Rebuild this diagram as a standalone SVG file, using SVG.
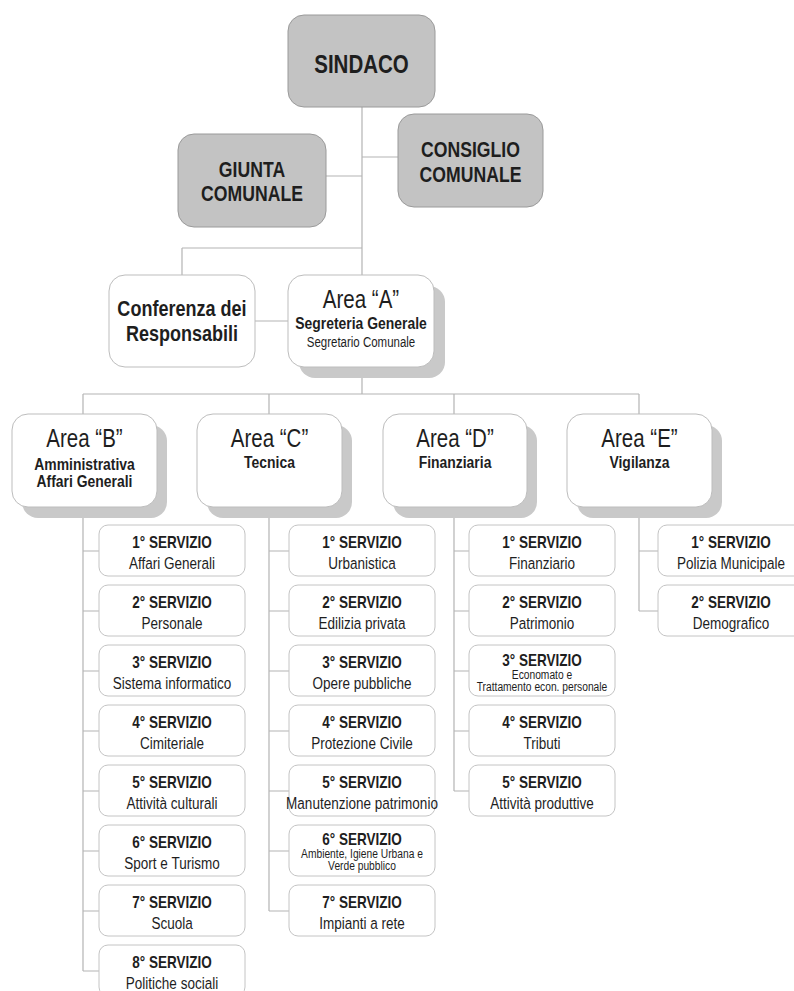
<svg xmlns="http://www.w3.org/2000/svg" width="794" height="991" viewBox="0 0 794 991">
<style>
text{font-family:"Liberation Sans","Arial",sans-serif;fill:#1e1e1e;text-anchor:middle;transform-box:fill-box;transform-origin:center;transform:scaleX(0.82)}
.top{fill:#c3c3c3;stroke:#9a9a9a;stroke-width:1}
.area{fill:#fff;stroke:#bdbdbd;stroke-width:1}
.sh{fill:#c9c9c9}
.srv{fill:#fff;stroke:#c4c4c4;stroke-width:1}
.ln{stroke:#b4b4b4;stroke-width:1.2;fill:none}
.t1{font-size:25px;font-weight:bold}
.t2{font-size:21.5px;font-weight:bold}
.t3{font-size:22px;font-weight:bold}
.at{font-size:25px}
.as{font-size:17px;font-weight:bold}
.am{font-size:14px}
.st{font-size:16.5px;font-weight:bold}
.ss{font-size:16.5px}
.sm{font-size:12.5px}
.sm2{font-size:12.5px}
</style>
<rect width="794" height="991" fill="#fff"/>
<g id="connectors" class="ln">
<path d="M362 107V394M326 176H362M362 157H398M182 248H362M182 248V275M255 321H288"/>
<path d="M83 394H639M83 394V971M269 394V911M454 394V791M639 394V611"/>
<path d="M83 551H99M83 611H99M83 671H99M83 731H99M83 791H99M83 851H99M83 911H99M83 971H99"/>
<path d="M269 551H289M269 611H289M269 671H289M269 731H289M269 791H289M269 851H289M269 911H289"/>
<path d="M454 551H469M454 611H469M454 671H469M454 731H469M454 791H469"/>
<path d="M639 551H658M639 611H658"/>
</g>
<g id="sindaco"><rect class="top" x="288" y="15" width="147" height="92" rx="16"/><text class="t1" x="361.5" y="73">SINDACO</text></g>
<g id="giunta"><rect class="top" x="178" y="134" width="148" height="93" rx="16"/><text class="t2" x="252" y="177">GIUNTA</text><text class="t2" x="252" y="201">COMUNALE</text></g>
<g id="consiglio"><rect class="top" x="398" y="114" width="145" height="93" rx="16"/><text class="t2" x="470.5" y="157">CONSIGLIO</text><text class="t2" x="470.5" y="182">COMUNALE</text></g>
<g id="conferenza"><rect class="area" x="109" y="275" width="146" height="92" rx="16"/><text class="t3" x="182" y="316">Conferenza dei</text><text class="t3" x="182" y="341">Responsabili</text></g>
<g id="areaA"><rect class="sh" x="299" y="286" width="146" height="92" rx="16"/><rect class="area" x="288" y="275" width="146" height="92" rx="16"/><text class="at" x="361" y="308">Area “A”</text><text class="as" x="361" y="329">Segreteria Generale</text><text class="am" x="361" y="347">Segretario Comunale</text></g>
<g id="areaB"><rect class="sh" x="22" y="425" width="145" height="93" rx="16"/><rect class="area" x="12" y="414" width="145" height="93" rx="16"/><text class="at" x="84.5" y="447">Area “B”</text><text class="as" x="84.5" y="470">Amministrativa</text><text class="as" x="84.5" y="487">Affari Generali</text></g>
<g id="areaC"><rect class="sh" x="207" y="425" width="145" height="93" rx="16"/><rect class="area" x="197" y="414" width="145" height="93" rx="16"/><text class="at" x="269.5" y="447">Area “C”</text><text class="as" x="269.5" y="468">Tecnica</text></g>
<g id="areaD"><rect class="sh" x="393" y="425" width="144" height="93" rx="16"/><rect class="area" x="383" y="414" width="144" height="93" rx="16"/><text class="at" x="455" y="447">Area “D”</text><text class="as" x="455" y="468">Finanziaria</text></g>
<g id="areaE"><rect class="sh" x="577" y="425" width="145" height="93" rx="16"/><rect class="area" x="567" y="414" width="145" height="93" rx="16"/><text class="at" x="639.5" y="447">Area “E”</text><text class="as" x="639.5" y="468">Vigilanza</text></g>
<g id="b1"><rect class="srv" x="99" y="525" width="146" height="51" rx="9"/><text class="st" x="172" y="548">1° SERVIZIO</text><text class="ss" x="172" y="569">Affari Generali</text></g>
<g id="b2"><rect class="srv" x="99" y="585" width="146" height="51" rx="9"/><text class="st" x="172" y="608">2° SERVIZIO</text><text class="ss" x="172" y="629">Personale</text></g>
<g id="b3"><rect class="srv" x="99" y="645" width="146" height="51" rx="9"/><text class="st" x="172" y="668">3° SERVIZIO</text><text class="ss" x="172" y="689">Sistema informatico</text></g>
<g id="b4"><rect class="srv" x="99" y="705" width="146" height="51" rx="9"/><text class="st" x="172" y="728">4° SERVIZIO</text><text class="ss" x="172" y="749">Cimiteriale</text></g>
<g id="b5"><rect class="srv" x="99" y="765" width="146" height="51" rx="9"/><text class="st" x="172" y="788">5° SERVIZIO</text><text class="ss" x="172" y="809">Attività culturali</text></g>
<g id="b6"><rect class="srv" x="99" y="825" width="146" height="51" rx="9"/><text class="st" x="172" y="848">6° SERVIZIO</text><text class="ss" x="172" y="869">Sport e Turismo</text></g>
<g id="b7"><rect class="srv" x="99" y="885" width="146" height="51" rx="9"/><text class="st" x="172" y="908">7° SERVIZIO</text><text class="ss" x="172" y="929">Scuola</text></g>
<g id="b8"><rect class="srv" x="99" y="945" width="146" height="51" rx="9"/><text class="st" x="172" y="968">8° SERVIZIO</text><text class="ss" x="172" y="989">Politiche sociali</text></g>
<g id="c1"><rect class="srv" x="289" y="525" width="146" height="51" rx="9"/><text class="st" x="362" y="548">1° SERVIZIO</text><text class="ss" x="362" y="569">Urbanistica</text></g>
<g id="c2"><rect class="srv" x="289" y="585" width="146" height="51" rx="9"/><text class="st" x="362" y="608">2° SERVIZIO</text><text class="ss" x="362" y="629">Edilizia privata</text></g>
<g id="c3"><rect class="srv" x="289" y="645" width="146" height="51" rx="9"/><text class="st" x="362" y="668">3° SERVIZIO</text><text class="ss" x="362" y="689">Opere pubbliche</text></g>
<g id="c4"><rect class="srv" x="289" y="705" width="146" height="51" rx="9"/><text class="st" x="362" y="728">4° SERVIZIO</text><text class="ss" x="362" y="749">Protezione Civile</text></g>
<g id="c5"><rect class="srv" x="289" y="765" width="146" height="51" rx="9"/><text class="st" x="362" y="788">5° SERVIZIO</text><text class="ss" x="362" y="809">Manutenzione patrimonio</text></g>
<g id="c6"><rect class="srv" x="289" y="825" width="146" height="51" rx="9"/><text class="st" x="362" y="845">6° SERVIZIO</text><text class="sm2" x="362" y="858">Ambiente, Igiene Urbana e</text><text class="sm2" x="362" y="870">Verde pubblico</text></g>
<g id="c7"><rect class="srv" x="289" y="885" width="146" height="51" rx="9"/><text class="st" x="362" y="908">7° SERVIZIO</text><text class="ss" x="362" y="929">Impianti a rete</text></g>
<g id="d1"><rect class="srv" x="469" y="525" width="146" height="51" rx="9"/><text class="st" x="542" y="548">1° SERVIZIO</text><text class="ss" x="542" y="569">Finanziario</text></g>
<g id="d2"><rect class="srv" x="469" y="585" width="146" height="51" rx="9"/><text class="st" x="542" y="608">2° SERVIZIO</text><text class="ss" x="542" y="629">Patrimonio</text></g>
<g id="d3"><rect class="srv" x="469" y="645" width="146" height="51" rx="9"/><text class="st" x="542" y="666">3° SERVIZIO</text><text class="sm" x="542" y="679">Economato e</text><text class="sm" x="542" y="691">Trattamento econ. personale</text></g>
<g id="d4"><rect class="srv" x="469" y="705" width="146" height="51" rx="9"/><text class="st" x="542" y="728">4° SERVIZIO</text><text class="ss" x="542" y="749">Tributi</text></g>
<g id="d5"><rect class="srv" x="469" y="765" width="146" height="51" rx="9"/><text class="st" x="542" y="788">5° SERVIZIO</text><text class="ss" x="542" y="809">Attività produttive</text></g>
<g id="e1"><rect class="srv" x="658" y="525" width="146" height="51" rx="9"/><text class="st" x="731" y="548">1° SERVIZIO</text><text class="ss" x="731" y="569">Polizia Municipale</text></g>
<g id="e2"><rect class="srv" x="658" y="585" width="146" height="51" rx="9"/><text class="st" x="731" y="608">2° SERVIZIO</text><text class="ss" x="731" y="629">Demografico</text></g>
</svg>
